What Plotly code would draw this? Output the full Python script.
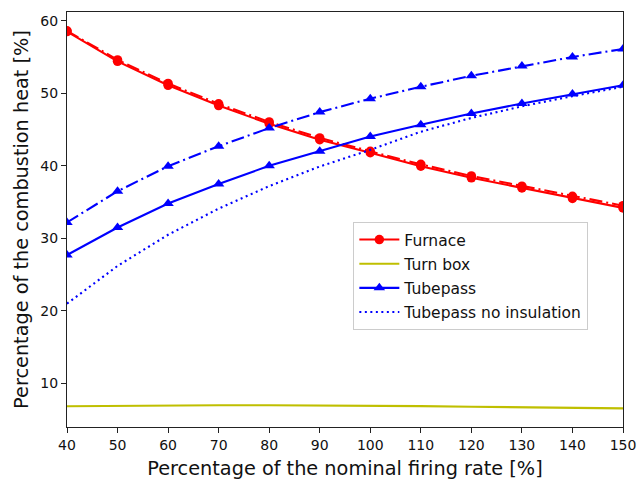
import plotly.graph_objects as go

x = [40, 50, 60, 70, 80, 90, 100, 110, 120, 130, 140, 150]
furnace = [58.5, 54.4, 51.1, 48.3, 45.8, 43.6, 41.8, 39.95, 38.35, 36.95, 35.5, 34.2]
furnace_alt = [58.6, 54.6, 51.35, 48.55, 46.05, 43.85, 42.0, 40.2, 38.6, 37.2, 35.8, 34.5]
turnbox = [6.85, 6.92, 6.97, 7.0, 7.0, 6.98, 6.94, 6.88, 6.8, 6.72, 6.64, 6.57]
tubepass = [27.7, 31.5, 34.8, 37.5, 40.0, 42.0, 44.05, 45.67, 47.2, 48.6, 49.9, 51.1]
tubepass_alt = [32.2, 36.5, 39.95, 42.7, 45.2, 47.4, 49.25, 50.9, 52.4, 53.75, 55.0, 56.1]
tubepass_noins = [21.0, 26.2, 30.5, 34.1, 37.2, 39.9, 42.2, 44.7, 46.6, 48.2, 49.6, 50.9]

RED = "#ff0000"
YEL = "#bfbf00"
BLUE = "#0000ff"
LW = 2.1
DASHDOT = "13px,4px,2px,4px"

fig = go.Figure()
fig.add_trace(go.Scatter(x=x, y=furnace_alt, mode="lines+markers", showlegend=False,
                         line=dict(color=RED, width=LW, dash=DASHDOT),
                         marker=dict(symbol="circle", size=9.5, color=RED)))
fig.add_trace(go.Scatter(x=x, y=furnace, mode="lines+markers", name="Furnace", legendgroup="a",
                         line=dict(color=RED, width=LW),
                         marker=dict(symbol="circle", size=9.5, color=RED)))
fig.add_trace(go.Scatter(x=x, y=turnbox, mode="lines", name="Turn box", legendgroup="b",
                         line=dict(color=YEL, width=LW)))
fig.add_trace(go.Scatter(x=x, y=tubepass_alt, mode="lines+markers", showlegend=False,
                         line=dict(color=BLUE, width=LW, dash=DASHDOT),
                         marker=dict(symbol="triangle-up", size=10, color=BLUE)))
fig.add_trace(go.Scatter(x=x, y=tubepass, mode="lines+markers", name="Tubepass", legendgroup="c",
                         line=dict(color=BLUE, width=LW),
                         marker=dict(symbol="triangle-up", size=10, color=BLUE)))
fig.add_trace(go.Scatter(x=x, y=tubepass_noins, mode="lines", name="Tubepass no insulation",
                         legendgroup="d",
                         line=dict(color=BLUE, width=LW, dash="2px,3.5px")))

axis_common = dict(showgrid=False, zeroline=False, showline=True, linecolor="#222",
                   linewidth=1.2, mirror=True, ticks="outside", ticklen=5,
                   tickcolor="#222", tickwidth=1.1, automargin=False,
                   tickfont=dict(family="DejaVu Sans", size=14, color="#111"))

fig.update_xaxes(range=[40, 150], tickvals=list(range(40, 151, 10)),
                 title=dict(text="Percentage of the nominal firing rate [%]",
                            font=dict(family="DejaVu Sans", size=19.3, color="#111"),
                            standoff=10),
                 **axis_common)
fig.update_yaxes(range=[4.0, 61.2], tickvals=[10, 20, 30, 40, 50, 60],
                 title=dict(text="Percentage of the combustion heat [%]",
                            font=dict(family="DejaVu Sans", size=19.3, color="#111"),
                            standoff=6),
                 **axis_common)

fig.update_layout(
    width=639, height=480,
    margin=dict(l=67, r=16, t=12, b=53),
    plot_bgcolor="white", paper_bgcolor="white",
    font=dict(family="DejaVu Sans", color="#111"),
    legend=dict(x=0.515, y=0.494, xanchor="left", yanchor="top",
                bgcolor="rgba(255,255,255,0.8)", bordercolor="#cccccc", borderwidth=1,
                font=dict(family="DejaVu Sans", size=15.5, color="#111"),
                itemwidth=40, tracegroupgap=1),
)

fig.write_html("out.html")
